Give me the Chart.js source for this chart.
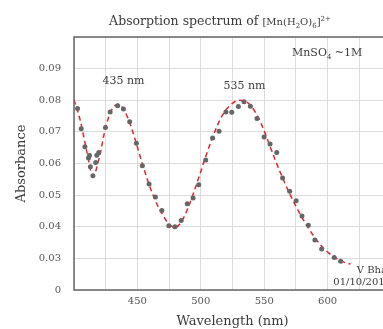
<!DOCTYPE html>
<html><head><meta charset="utf-8">
<script src="https://cdn.jsdelivr.net/npm/chart.js@4.4.1/dist/chart.umd.min.js"></script>
<style>
html,body{margin:0;padding:0;overflow:hidden;background:#fff;width:383px;height:329px}
#wrap{width:440px;height:329px}
</style></head>
<body><div id="wrap"><canvas id="c" width="440" height="329"></canvas></div>
<script>
// measured points
const wavelengths = [402.8,405.7,408.6,411.4,412.2,412.9,414.9,417.1,418.0,419.5,424.8,428.5,434.4,439.0,443.9,449.2,453.9,459.2,464.2,469.3,474.8,479.6,484.5,489.3,493.9,498.4,503.9,509.3,514.4,519.8,524.4,529.6,534.1,539.1,544.3,549.9,554.6,559.9,564.5,570.1,575.2,579.8,584.8,590.0,595.3,605.2,610.3];
const absorbance  = [0.0774,0.0710,0.0653,0.0617,0.0625,0.0590,0.0561,0.0603,0.0626,0.0635,0.0714,0.0763,0.0783,0.0772,0.0732,0.0664,0.0593,0.0535,0.0494,0.0451,0.0403,0.0400,0.0420,0.0473,0.0491,0.0533,0.0611,0.0681,0.0702,0.0763,0.0762,0.0780,0.0795,0.0781,0.0742,0.0684,0.0662,0.0635,0.0554,0.0512,0.0482,0.0434,0.0405,0.0358,0.0330,0.0303,0.0291];
// fitted curve
const fitWavelengths = [400,405,410,415,420,425,430,435,440,445,450,455,460,465,470,475,480,485,490,495,500,505,510,515,520,525,530,535,540,545,550,555,560,565,570,575,580,585,590,595,600,605,610,615,618];
const fitAbsorbance  = [0.0802,0.0735,0.0640,0.0560,0.0620,0.0715,0.0772,0.0787,0.0765,0.0717,0.0652,0.0585,0.0525,0.0475,0.0437,0.0408,0.0398,0.0418,0.0460,0.0515,0.0575,0.0635,0.0690,0.0737,0.0770,0.0790,0.0800,0.0797,0.0780,0.0748,0.0703,0.0650,0.0598,0.0550,0.0505,0.0465,0.0428,0.0395,0.0365,0.0340,0.0320,0.0305,0.0293,0.0285,0.0282];
const xLabelled = [450,500,550,600];
const peakLabels = [{text:'435 nm', x:439, y:0.0852},{text:'535 nm', x:534.5, y:0.0837}];

const FONT = "'DejaVu Serif', serif";

const deco = {
  id:'deco',
  afterDraw(chart){
    const ctx = chart.ctx, a = chart.chartArea, xs = chart.scales.x, ys = chart.scales.y;
    ctx.save();
    // frame
    ctx.strokeStyle = '#666'; ctx.lineWidth = 1.5;
    ctx.strokeRect(a.left, a.top, a.right - a.left, a.bottom - a.top);
    ctx.fillStyle = '#3a3a3a';
    ctx.textBaseline = 'alphabetic';
    // title with sub/superscripts
    const parts = [
      {t:'Absorption spectrum of ', s:12.5, dy:0},
      {t:'[Mn(H', s:10, dy:0},{t:'2', s:7, dy:2.5},{t:'O)', s:10, dy:0},{t:'6', s:7, dy:2.5},{t:']', s:10, dy:0},{t:'2+', s:7, dy:-4.5}
    ];
    let w = 0;
    parts.forEach(p=>{ctx.font = p.s+'px '+FONT; p.w = ctx.measureText(p.t).width; w += p.w;});
    let x = 220 - w/2;
    parts.forEach(p=>{ctx.font = p.s+'px '+FONT; ctx.textAlign='left'; ctx.fillText(p.t, x, 25 + p.dy); x += p.w;});
    // peak labels
    ctx.font = '11px '+FONT; ctx.textAlign = 'center';
    peakLabels.forEach(l=>ctx.fillText(l.text, xs.getPixelForValue(l.x), ys.getPixelForValue(l.y)));
    // concentration note
    let nx = 292, ny = 56;
    ctx.textAlign='left';
    ctx.font = '11px '+FONT; ctx.fillText('MnSO', nx, ny); nx += ctx.measureText('MnSO').width;
    ctx.font = '7px '+FONT; ctx.fillText('4', nx, ny+2.5); nx += ctx.measureText('4').width;
    ctx.font = '11px '+FONT; ctx.fillText(' ~1M', nx, ny);
    // signature
    ctx.font = '10px '+FONT; ctx.textAlign='right';
    ctx.fillText('V Bhat', a.right, 273);
    ctx.fillText('01/10/2016', a.right, 285);
    ctx.restore();
  }
};

new Chart(document.getElementById('c'), {
  data:{
    datasets:[
      {type:'scatter', label:'measured', order:0,
       data: wavelengths.map((w,i)=>({x:w, y:absorbance[i]})),
       pointRadius:2.5, pointHoverRadius:2.5, backgroundColor:'#666', borderColor:'#666', borderWidth:0},
      {type:'line', label:'fit', order:1,
       data: fitWavelengths.map((w,i)=>({x:w, y:fitAbsorbance[i]})),
       borderColor:'#e8222c', borderWidth:1.5, borderDash:[5,3.5], pointRadius:0,
       cubicInterpolationMode:'monotone', fill:false}
    ]
  },
  options:{
    responsive:false, animation:false, devicePixelRatio:1,
    layout:{padding:{left:0, top:37, right:49, bottom:0}},
    plugins:{legend:{display:false}, tooltip:{enabled:false}, title:{display:false}},
    scales:{
      x:{type:'linear', min:400, max:650,
         border:{display:false},
         grid:{color:'#dcdcdc', lineWidth:1, drawTicks:false},
         ticks:{stepSize:25, padding:5, color:'#555', font:{family:FONT, size:10}, maxRotation:0,
                callback:v=> xLabelled.includes(v) ? String(v) : ''},
         title:{display:true, text:'Wavelength (nm)', color:'#3a3a3a', font:{family:FONT, size:13}, padding:{top:0,bottom:0}},
         afterFit:s=>{s.height = 39;}},
      y:{type:'linear', min:0.02, max:0.1,
         border:{display:false},
         grid:{color:'#dcdcdc', lineWidth:1, drawTicks:false},
         ticks:{stepSize:0.01, padding:13, color:'#555', font:{family:FONT, size:10},
                callback:v=>{const k=Math.round(v*100); if(k===2) return '0'; if(k===10) return ''; return (k/100).toFixed(2);}},
         title:{display:true, text:'Absorbance', color:'#3a3a3a', font:{family:FONT, size:13}, padding:{top:14,bottom:0}},
         afterFit:s=>{s.width = 74;}}
    }
  },
  plugins:[deco]
});
</script>
</body></html>
